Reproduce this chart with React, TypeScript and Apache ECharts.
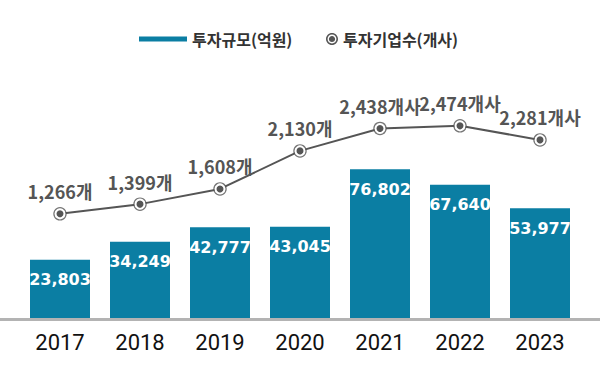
import React, { useEffect, useRef } from "react";
import * as echarts from "echarts";

const years = ["2017", "2018", "2019", "2020", "2021", "2022", "2023"];
const investAmount = [23803, 34249, 42777, 43045, 76802, 67640, 53977];
const companyCount = [1266, 1399, 1608, 2130, 2438, 2474, 2281];
const companyUnits = ["개", "개", "개", "개", "개사", "개사", "개사"];
const seriesNames = ["투자규모(억원)", "투자기업수(개사)"];

const BAR = "#0b7ea3";
const LINE = "#555555";

function circlePath(r: number, cw: boolean) {
  const c = 10;
  const k = 0.5523 * r;
  if (cw) {
    return `M${c},${c - r} C${c + k},${c - r} ${c + r},${c - k} ${c + r},${c} C${c + r},${c + k} ${c + k},${c + r} ${c},${c + r} C${c - k},${c + r} ${c - r},${c + k} ${c - r},${c} C${c - r},${c - k} ${c - k},${c - r} ${c},${c - r} Z`;
  }
  return `M${c},${c - r} C${c - k},${c - r} ${c - r},${c - k} ${c - r},${c} C${c - r},${c + k} ${c - k},${c + r} ${c},${c + r} C${c + k},${c + r} ${c + r},${c + k} ${c + r},${c} C${c + r},${c - k} ${c + k},${c - r} ${c},${c - r} Z`;
}
const ringDot = "path://" + circlePath(10, true) + " " + circlePath(7.4, false) + " " + circlePath(5.2, true);

const fmt = (v: number) => v.toLocaleString("en-US");

export default function App() {
  const ref = useRef<HTMLDivElement>(null);
  useEffect(() => {
    if (!ref.current) return;
    const chart = echarts.init(ref.current, null, { renderer: "svg" });
    const legendText = { fontFamily: "Noto Sans CJK KR", fontSize: 16, fontWeight: "bold", color: "#333" };
    chart.setOption({
      animation: false,
      backgroundColor: "#ffffff",
      legend: [
        {
          data: [{ name: seriesNames[0], icon: "rect" }],
          left: 139,
          top: 31,
          padding: 0,
          itemWidth: 48,
          itemHeight: 5,
          itemStyle: { borderWidth: 0 },
          textStyle: legendText,
        },
        {
          data: [{ name: seriesNames[1], icon: ringDot }],
          left: 326,
          top: 31,
          padding: 0,
          itemWidth: 12,
          itemHeight: 12,
          itemStyle: { color: LINE, borderWidth: 0, borderColor: "transparent" },
          lineStyle: { opacity: 0 },
          textStyle: legendText,
        },
      ],
      grid: { left: 20, right: 20, top: 60, bottom: 60.5, containLabel: false },
      xAxis: {
        type: "category",
        data: years,
        boundaryGap: true,
        axisLine: { show: false },
        axisTick: { show: false },
        axisLabel: { margin: 12, fontFamily: "Roboto", fontSize: 22, color: "#111" },
      },
      yAxis: [
        { type: "value", min: -11240, max: 140730, startValue: -11240, show: false, splitLine: { show: false } },
        { type: "value", min: -185, max: 3378, show: false, splitLine: { show: false } },
      ],
      graphic: [
        {
          type: "line",
          shape: { x1: 0, y1: 319.5, x2: 600, y2: 319.5 },
          style: { stroke: "#b3b3b3", lineWidth: 3 },
          z: 10,
        },
      ],
      series: [
        {
          name: seriesNames[0],
          type: "bar",
          data: investAmount,
          yAxisIndex: 0,
          barWidth: 60,
          itemStyle: { color: BAR },
          label: {
            show: true,
            position: "insideTop",
            distance: 12,
            formatter: (p: any) => fmt(p.value),
            fontFamily: "DejaVu Sans",
            fontWeight: "bold",
            fontSize: 16,
            color: "#ffffff",
          },
        },
        {
          name: "ring",
          type: "scatter",
          data: companyCount,
          yAxisIndex: 1,
          symbol: "circle",
          symbolSize: 13.5,
          itemStyle: { color: LINE },
          z: 3,
          silent: true,
        },
        {
          name: seriesNames[1],
          type: "line",
          data: companyCount,
          yAxisIndex: 1,
          symbol: "circle",
          symbolSize: 9,
          showAllSymbol: true,
          z: 4,
          lineStyle: { color: LINE, width: 2 },
          itemStyle: { color: LINE, borderColor: "#ffffff", borderWidth: 2 },
          label: {
            show: true,
            position: "top",
            distance: 8,
            formatter: (p: any) => fmt(p.value) + companyUnits[p.dataIndex],
            fontFamily: "Noto Sans CJK KR",
            fontWeight: "bold",
            fontSize: 18,
            color: "#555",
          },
        },
      ],
    });
    return () => chart.dispose();
  }, []);
  return (
    <div
      ref={ref}
      style={{ position: "fixed", left: 0, top: 0, width: 600, height: 380, background: "#fff" }}
    />
  );
}
